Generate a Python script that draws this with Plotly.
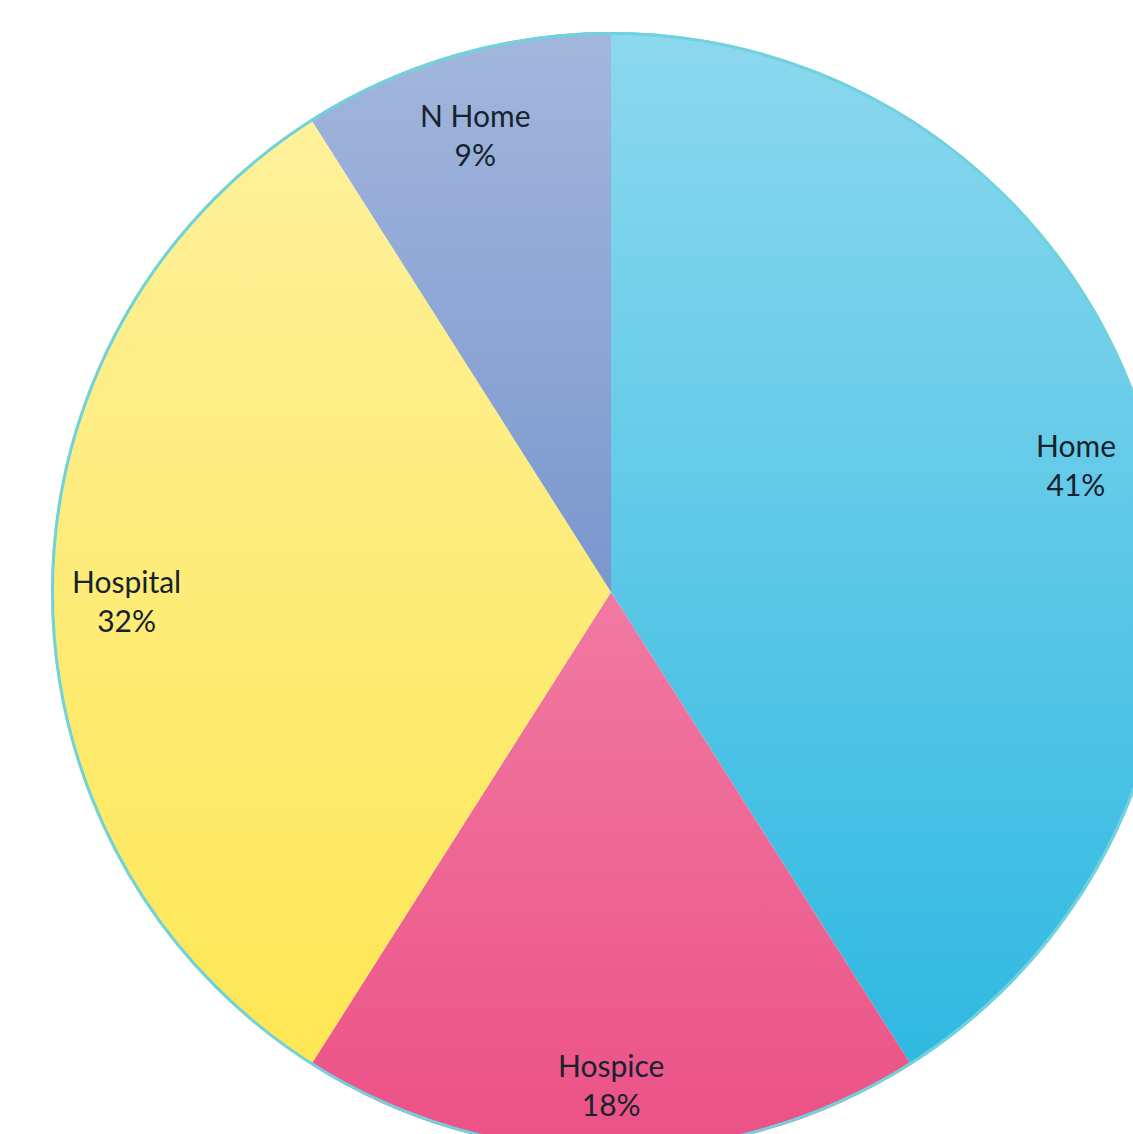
import base64
import math
import plotly.graph_objects as go

# ---- data ----
labels = ["Home", "Hospice", "Hospital", "N Home"]
values = [41, 18, 32, 9]
colors = ["#27b6e0", "#ec5186", "#fde64e", "#5177be"]

# ---- geometry (pixels) ----
W, H = 1172, 1154
CX, CY, R = 611, 592, 560

dom_x = [(CX - R) / W, (CX + R) / W]
dom_y = [1 - (CY + R) / H, 1 - (CY - R) / H]

fig = go.Figure(
    go.Pie(
        labels=labels,
        values=values,
        sort=False,
        direction="clockwise",
        rotation=0,
        marker=dict(colors=colors, line=dict(width=0)),
        textinfo="none",
        hoverinfo="label+percent",
        domain=dict(x=dom_x, y=dom_y),
        showlegend=False,
    )
)

# labels placed along each slice's mid-angle
total = sum(values)
cum = 0
for lab, v in zip(labels, values):
    mid = (cum + v / 2) / total * 2 * math.pi
    cum += v
    rr = 0.865 * R
    px = CX + rr * math.sin(mid)
    py = CY - rr * math.cos(mid) + 8
    fig.add_annotation(
        x=px / W, y=1 - py / H, xref="paper", yref="paper",
        xanchor="center", yanchor="middle",
        text=f"{lab}<br>{round(v / total * 100)}%",
        showarrow=False,
        font=dict(family="Lato, Open Sans, sans-serif", size=30, color="#17222e"),
        align="center",
    )

# gradient overlay + thin outer rim
svg = f"""<svg xmlns='http://www.w3.org/2000/svg' width='1120' height='1120' viewBox='0 0 1120 1120'>
<defs><linearGradient id='g' x1='0' y1='0' x2='0' y2='1'>
<stop offset='0' stop-color='#ffffff' stop-opacity='0.47'/>
<stop offset='1' stop-color='#ffffff' stop-opacity='0'/>
</linearGradient></defs>
<circle cx='560' cy='560' r='560' fill='url(#g)'/>
<circle cx='560' cy='560' r='558.5' fill='none' stroke='#6fd2dc' stroke-width='3'/>
</svg>"""
src = "data:image/svg+xml;base64," + base64.b64encode(svg.encode()).decode()
fig.add_layout_image(
    source=src, xref="paper", yref="paper",
    x=dom_x[0], y=dom_y[1], sizex=dom_x[1] - dom_x[0], sizey=dom_y[1] - dom_y[0],
    xanchor="left", yanchor="top", sizing="stretch", layer="above",
)

fig.update_layout(
    width=W, height=H,
    margin=dict(l=0, r=0, t=0, b=0),
    paper_bgcolor="white",
    plot_bgcolor="white",
)

fig.write_html(
    "out.html",
    post_script="document.documentElement.style.overflow='hidden';document.body.style.overflow='hidden';document.body.style.margin='0';",
)
